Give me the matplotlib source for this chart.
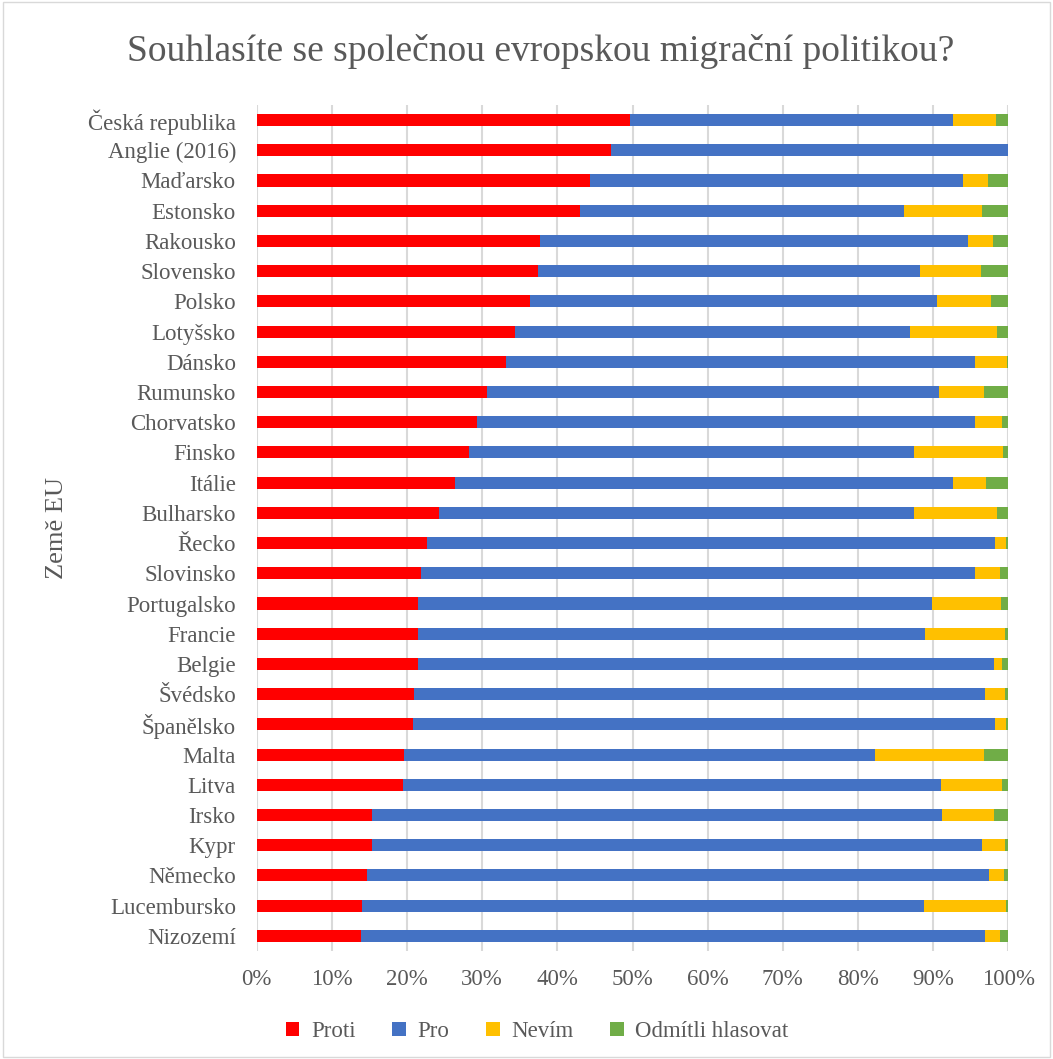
import matplotlib
matplotlib.use("Agg")
import matplotlib.pyplot as plt
from matplotlib.patches import Rectangle
import numpy as np

countries = ["Česká republika", "Anglie (2016)", "Maďarsko", "Estonsko", "Rakousko",
             "Slovensko", "Polsko", "Lotyšsko", "Dánsko", "Rumunsko", "Chorvatsko",
             "Finsko", "Itálie", "Bulharsko", "Řecko", "Slovinsko", "Portugalsko",
             "Francie", "Belgie", "Švédsko", "Španělsko", "Malta", "Litva", "Irsko",
             "Kypr", "Německo", "Lucembursko", "Nizozemí"]

proti = [49.6, 47.1, 44.3, 43.0, 37.7, 37.4, 36.4, 34.4, 33.2, 30.6, 29.3, 28.2, 26.4,
         24.2, 22.7, 21.8, 21.5, 21.5, 21.4, 20.9, 20.8, 19.6, 19.5, 15.4, 15.4, 14.7,
         14.0, 13.9]
pro = [43.1, 52.9, 49.6, 43.1, 56.9, 50.8, 54.1, 52.5, 62.4, 60.2, 66.3, 59.2, 66.3,
       63.2, 75.5, 73.8, 68.3, 67.4, 76.7, 76.0, 77.4, 62.6, 71.5, 75.8, 81.1, 82.7,
       74.8, 83.0]
nevim = [5.7, 0.0, 3.4, 10.4, 3.4, 8.1, 7.2, 11.6, 4.2, 6.0, 3.5, 11.9, 4.3,
         11.1, 1.5, 3.3, 9.2, 10.6, 1.1, 2.7, 1.5, 14.5, 8.2, 6.9, 3.0, 2.0,
         10.9, 2.0]
odmitli = [1.6, 0.0, 2.7, 3.5, 2.0, 3.7, 2.3, 1.5, 0.2, 3.2, 0.9, 0.7, 3.0,
           1.5, 0.3, 1.1, 1.0, 0.5, 0.8, 0.4, 0.3, 3.3, 0.8, 1.9, 0.5, 0.6,
           0.3, 1.1]

series_names = ["Proti", "Pro", "Nevím", "Odmítli hlasovat"]
colors = ["#FF0000", "#4472C4", "#FFC000", "#70AD47"]
xticks = [0, 10, 20, 30, 40, 50, 60, 70, 80, 90, 100]

title = "Souhlasíte se společnou evropskou migrační politikou?"
ylabel = "Země EU"

plt.rcParams["font.family"] = ["Liberation Serif", "DejaVu Serif"]
gray = "#595959"

fig = plt.figure(figsize=(10.53, 10.59), dpi=100)
ax = fig.add_axes([0.2438, 0.102, 0.7138, 0.7989])

y = np.arange(len(countries))
data = [proti, pro, nevim, odmitli]
left = np.zeros(len(countries))
for vals, name, c in zip(data, series_names, colors):
    v = np.array(vals, dtype=float)
    ax.barh(y, v, left=left, height=0.4, color=c, label=name, linewidth=0, zorder=3)
    left += v

ax.set_ylim(len(countries) - 0.5, -0.5)
ax.set_xlim(0, 100)
ax.set_yticks(y)
ax.set_yticklabels(countries, fontsize=16.5, color=gray)
ax.set_xticks(xticks)
ax.set_xticklabels([f"{t}%" for t in xticks], fontsize=16.5, color=gray)
ax.tick_params(axis="both", length=0)
ax.tick_params(axis="x", pad=13)
ax.tick_params(axis="y", pad=15)
ax.grid(axis="x", color="#D9D9D9", linewidth=1.5, zorder=0)
for s in ax.spines.values():
    s.set_visible(False)
ax.set_ylabel(ylabel, fontsize=19, color=gray)
ax.yaxis.set_label_coords(-0.251, 0.5)

fig.text(0.513, 0.951, title, ha="center", va="center", fontsize=27, color=gray)

leg = fig.legend(loc="center", bbox_to_anchor=(0.51, 0.026), ncol=4, frameon=False,
                 fontsize=16.5, handlelength=0.6, handleheight=0.6, handletextpad=0.5,
                 columnspacing=1.6, labelcolor=gray)

fig.patches.append(Rectangle((0.003, 0.002), 0.994, 0.996, transform=fig.transFigure,
                             fill=False, edgecolor="#D9D9D9", linewidth=1))

fig.savefig("out.png", dpi=100)
